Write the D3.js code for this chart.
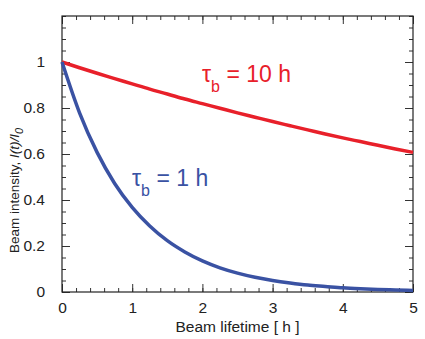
<!DOCTYPE html>
<html>
<head>
<meta charset="utf-8">
<script src="https://cdn.jsdelivr.net/npm/d3@7"></script>
<style>
  body { margin: 0; background: #fff; }
  svg { font-family: "Liberation Sans", Arial, sans-serif; }
</style>
</head>
<body>
<svg id="chart" width="425" height="339"></svg>
<script>
// time in hours
const times = [0, 0.25, 0.5, 0.75, 1, 1.25, 1.5, 1.75, 2, 2.25, 2.5, 2.75, 3, 3.25, 3.5, 3.75, 4, 4.25, 4.5, 4.75, 5];
// tau_b = 10 h
const longLife = [1, 0.975, 0.951, 0.928, 0.905, 0.882, 0.861, 0.839, 0.819, 0.799, 0.779, 0.76, 0.741, 0.723, 0.705, 0.687, 0.67, 0.654, 0.638, 0.622, 0.607];
// tau_b = 1 h
const shortLife = [1, 0.779, 0.607, 0.472, 0.368, 0.287, 0.223, 0.174, 0.135, 0.105, 0.082, 0.064, 0.05, 0.039, 0.03, 0.024, 0.018, 0.014, 0.011, 0.009, 0.007];
const xTicks = [0, 1, 2, 3, 4, 5];
const yTicks = [0, 0.2, 0.4, 0.6, 0.8, 1];

const svg = d3.select("#chart");
const margin = { top: 16, left: 62, right: 12, bottom: 47 };
const width = +svg.attr("width");
const height = +svg.attr("height");
const innerWidth = width - margin.left - margin.right;
const innerHeight = height - margin.top - margin.bottom;

const xScale = d3.scaleLinear().domain([0, 5]).range([0, innerWidth]);
const yScale = d3.scaleLinear().domain([0, 1.2]).range([innerHeight, 0]);

const g = svg.append("g").attr("transform", `translate(${margin.left},${margin.top})`);

const axisColor = "#333";
const minorX = d3.range(0, 5.001, 0.2);
const minorY = d3.range(0, 1.2001, 0.05);

// ticks pointing inward on all four sides
const styleAxis = (sel) => {
  sel.select(".domain").remove();
  sel.selectAll(".tick line").attr("stroke", axisColor).attr("stroke-width", 1);
  sel.selectAll("text").attr("font-size", 15.5).attr("fill", "#222");
};
const ticksOnly = (sel) => {
  styleAxis(sel);
  sel.selectAll("text").remove();
};

g.append("g").attr("transform", `translate(0,${innerHeight})`)
  .call(d3.axisBottom(xScale).tickValues(minorX).tickSize(-4))
  .call(ticksOnly);
g.append("g").attr("transform", `translate(0,${innerHeight})`)
  .call(d3.axisBottom(xScale).tickValues(xTicks).tickSize(-8).tickPadding(10).tickFormat(d3.format("d")))
  .call(styleAxis);
g.append("g")
  .call(d3.axisTop(xScale).tickValues(minorX).tickSize(-4))
  .call(ticksOnly);
g.append("g")
  .call(d3.axisTop(xScale).tickValues(xTicks).tickSize(-8))
  .call(ticksOnly);

g.append("g")
  .call(d3.axisLeft(yScale).tickValues(minorY).tickSize(-4))
  .call(ticksOnly);
g.append("g")
  .call(d3.axisLeft(yScale).tickValues(yTicks).tickSize(-8).tickPadding(17)
    .tickFormat(d => d === 0 || d === 1 ? d3.format("d")(d) : d3.format(".1f")(d)))
  .call(styleAxis);
g.append("g").attr("transform", `translate(${innerWidth},0)`)
  .call(d3.axisRight(yScale).tickValues(minorY).tickSize(-4))
  .call(ticksOnly);
g.append("g").attr("transform", `translate(${innerWidth},0)`)
  .call(d3.axisRight(yScale).tickValues(yTicks).tickSize(-8))
  .call(ticksOnly);

// frame
g.append("rect")
  .attr("width", innerWidth).attr("height", innerHeight)
  .attr("fill", "none").attr("stroke", "#222").attr("stroke-width", 1.2);

const lineGen = (vals) => d3.line()
  .x((d, i) => xScale(times[i]))
  .y((d) => yScale(d))
  .curve(d3.curveMonotoneX)(vals);

g.append("path").attr("d", lineGen(longLife))
  .attr("fill", "none").attr("stroke", "#e8202a").attr("stroke-width", 3.5);
g.append("path").attr("d", lineGen(shortLife))
  .attr("fill", "none").attr("stroke", "#3a52a3").attr("stroke-width", 3.5);

// curve labels
const label = (x, y, txt, color) => {
  const t = svg.append("text").attr("x", x).attr("y", y)
    .attr("fill", color).attr("font-size", 23);
  t.append("tspan").text("τ");
  t.append("tspan").text("b").attr("font-size", 16).attr("dy", 10);
  t.append("tspan").text(" = " + txt).attr("dy", -10);
};
label(202, 82, "10 h", "#e8202a");
label(132, 186, "1 h", "#3a52a3");

// axis titles
svg.append("text")
  .attr("x", margin.left + innerWidth / 2).attr("y", 332)
  .attr("text-anchor", "middle").attr("font-size", 15.5).attr("fill", "#222")
  .text("Beam lifetime [ h ]");

const yl = svg.append("text")
  .attr("transform", "translate(19,253) rotate(-90)")
  .attr("font-size", 13.5).attr("fill", "#222");
yl.append("tspan").text("Beam intensity, ");
yl.append("tspan").text("I(t)/I").attr("font-style", "italic");
yl.append("tspan").text("0").attr("font-style", "italic").attr("font-size", 11).attr("dy", 4);
</script>
</body>
</html>
